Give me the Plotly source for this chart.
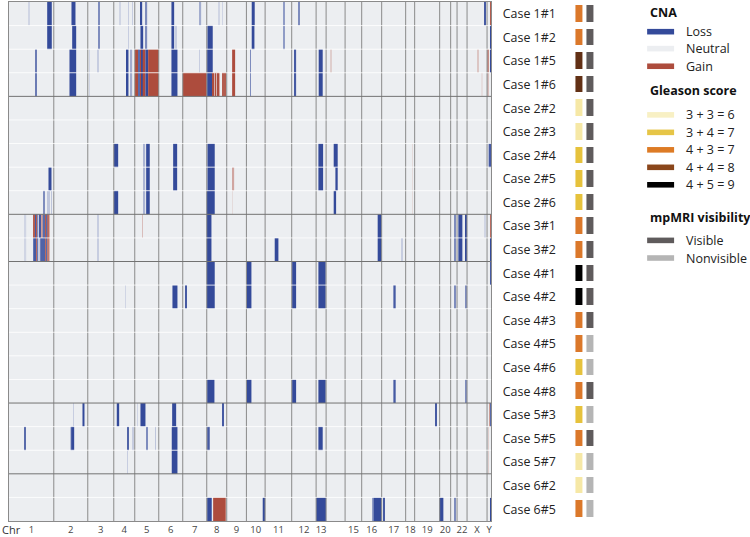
import plotly.graph_objects as go

# ---------------- data ----------------
ROWS = ["Case 1#1", "Case 1#2", "Case 1#5", "Case 1#6", "Case 2#2", "Case 2#3",
        "Case 2#4", "Case 2#5", "Case 2#6", "Case 3#1", "Case 3#2", "Case 4#1",
        "Case 4#2", "Case 4#3", "Case 4#5", "Case 4#6", "Case 4#8", "Case 5#3",
        "Case 5#5", "Case 5#7", "Case 6#2", "Case 6#5"]

CHROMS = ["1", "2", "3", "4", "5", "6", "7", "8", "9", "10", "11", "12", "13", "14",
          "15", "16", "17", "18", "19", "20", "21", "22", "X", "Y"]
# chromosome lengths in genome bins
CHROM_BINS = [448, 340, 260, 210, 240, 240, 240, 200, 197, 187, 266, 244, 100, 190,
              166, 200, 240, 90, 250, 110, 64, 100, 200, 43]
TICK_LABELS = ["1", "2", "3", "4", "5", "6", "7", "8", "9", "10", "11", "12", "13", "",
               "15", "16", "17", "18", "19", "20", "", "22", "X", "Y"]

GLEASON = ["4 + 3 = 7", "4 + 3 = 7", "4 + 4 = 8", "4 + 4 = 8", "3 + 3 = 6", "3 + 3 = 6",
           "3 + 4 = 7", "3 + 4 = 7", "3 + 4 = 7", "4 + 3 = 7", "4 + 3 = 7", "4 + 5 = 9",
           "4 + 5 = 9", "4 + 3 = 7", "4 + 3 = 7", "3 + 4 = 7", "4 + 3 = 7", "3 + 4 = 7",
           "4 + 3 = 7", "3 + 3 = 6", "3 + 3 = 6", "4 + 3 = 7"]
VISIBILITY = ["Visible"] * 14 + ["Nonvisible", "Nonvisible", "Visible", "Nonvisible",
                                 "Visible", "Nonvisible", "Nonvisible", "Nonvisible"]

# CNA segments per sample: (start bin, end bin, log2 ratio) in genome-wide bins
SEGMENTS = {
    "Case 1#1": [(195, 202, -0.15), (382, 428, -1), (625, 665, -1), (895, 905, -0.6),
                 (1110, 1117, -0.15), (1193, 1200, -0.2), (1233, 1240, -0.2), (1315, 1332, -1),
                 (1365, 1382, -0.6), (1625, 1652, -1), (1908, 1922, -0.4), (2098, 2105, -0.15),
                 (2132, 2138, -0.15), (2428, 2458, -1), (2748, 2755, -0.5), (2898, 2905, -0.6),
                 (4755, 4765, -0.9), (4812, 4825, 0.9)],
    "Case 1#2": [(382, 428, -1), (632, 672, -1), (895, 905, -0.6), (1193, 1200, -0.2),
                 (1315, 1342, -1), (1365, 1382, -0.6), (1625, 1652, -1), (1667, 1673, -0.2),
                 (1985, 2038, -1), (2428, 2455, -1), (2748, 2755, -0.5), (4812, 4825, -1)],
    "Case 1#5": [(265, 272, -0.7), (605, 672, -1), (805, 810, -0.15), (888, 893, -0.2),
                 (1178, 1195, -1), (1215, 1232, -0.4), (1260, 1295, 1), (1295, 1312, -0.8),
                 (1312, 1325, 1), (1325, 1338, -1), (1338, 1365, 1), (1365, 1392, -1),
                 (1392, 1498, 1), (1625, 1685, -1), (1902, 1908, -0.2), (1982, 2038, -1),
                 (2232, 2262, 1), (2412, 2420, -0.6), (2858, 2872, -0.9), (3098, 3138, -1),
                 (3220, 3225, 0.2), (4686, 4692, 0.25), (4785, 4792, 0.6), (4812, 4825, -1)],
    "Case 1#6": [(265, 272, -0.7), (605, 672, -1), (805, 810, -0.15), (1178, 1195, -1),
                 (1215, 1232, -0.4), (1260, 1295, 1), (1295, 1312, -0.8), (1312, 1325, 1),
                 (1325, 1338, -1), (1338, 1365, 1), (1365, 1392, -1), (1392, 1498, 1),
                 (1625, 1685, -1), (1738, 1980, 1), (1982, 2038, -1), (2038, 2058, 1),
                 (2058, 2065, 0.4), (2065, 2075, 1), (2075, 2080, 0.3), (2080, 2105, 1),
                 (2135, 2142, 0.9), (2158, 2165, 0.9), (2232, 2262, 1), (2412, 2420, -0.6),
                 (2858, 2872, -0.9), (3098, 3138, -1), (4725, 4735, 0.1), (4785, 4792, 0.3)],
    "Case 2#2": [],
    "Case 2#3": [],
    "Case 2#4": [(1048, 1092, -1), (1348, 1362, -0.35), (1372, 1408, -1), (1642, 1682, -1),
                 (1985, 2058, -1), (3095, 3142, -1), (3248, 3288, -1), (4035, 4040, 0.12),
                 (4798, 4825, -0.9)],
    "Case 2#5": [(395, 425, -1), (1348, 1362, -0.35), (1372, 1408, -1), (1642, 1682, -1),
                 (1985, 2058, -1), (2235, 2252, 0.45), (3095, 3142, -1), (3265, 3288, -1),
                 (4035, 4040, 0.12)],
    "Case 2#6": [(345, 352, -0.6), (388, 393, -0.25), (405, 410, -0.25), (423, 428, -0.25),
                 (1048, 1092, -1), (1348, 1362, -0.35), (1372, 1408, -1), (1978, 2058, -1),
                 (2235, 2240, 0.12), (3248, 3272, -1), (4035, 4040, 0.12)],
    "Case 3#1": [(155, 172, -0.15), (248, 262, 0.9), (262, 275, -0.9), (275, 288, 0.9),
                 (288, 298, -0.6), (298, 308, -0.2), (308, 322, -0.9), (322, 338, 0.5),
                 (338, 362, -0.8), (362, 372, 0.9), (372, 382, -0.8), (382, 405, 0.8),
                 (888, 893, -0.2), (1335, 1340, 0.3), (1978, 2025, -1), (3688, 3728, -1),
                 (4455, 4465, -0.6), (4495, 4535, -1), (4562, 4578, -1), (4760, 4765, -0.15),
                 (4812, 4825, 0.8)],
    "Case 3#2": [(155, 172, -0.15), (242, 275, -0.9), (275, 288, 0.8), (288, 298, -0.7),
                 (298, 308, -0.2), (312, 362, -0.85), (362, 375, 0.8), (375, 388, -0.8),
                 (388, 405, 0.7), (888, 893, -0.2), (1978, 2025, -1), (2658, 2695, -1),
                 (3688, 3728, -1), (3928, 3933, -0.2), (4455, 4465, -0.6), (4495, 4535, -1),
                 (4562, 4578, -1), (4812, 4825, -1)],
    "Case 4#1": [(1978, 2058, -1), (2375, 2425, -1), (2832, 2872, -1), (3095, 3168, -1),
                 (4812, 4825, -0.9)],
    "Case 4#2": [(1162, 1167, -0.15), (1635, 1685, -1), (1762, 1772, -0.9), (1978, 2058, -1),
                 (2375, 2425, -1), (2832, 2872, -1), (3095, 3168, -1), (3845, 3868, -0.9),
                 (4458, 4472, -0.6), (4565, 4575, -0.6)],
    "Case 4#3": [],
    "Case 4#5": [],
    "Case 4#6": [],
    "Case 4#8": [(1982, 2055, -1), (2375, 2425, -1), (2832, 2872, -1), (3095, 3168, -1),
                 (3845, 3868, -0.9), (4565, 4575, -0.6)],
    "Case 5#3": [(643, 648, -0.2), (735, 755, -1), (1078, 1102, -1), (1282, 1287, -0.15),
                 (1315, 1365, -1), (1632, 1672, -1), (2135, 2148, -0.9), (4262, 4272, -0.9),
                 (4805, 4812, 0.5), (4812, 4825, -0.8)],
    "Case 5#5": [(158, 168, -0.8), (615, 622, -0.3), (622, 652, -1), (1185, 1195, -0.85),
                 (1232, 1248, -0.2), (1372, 1382, -0.6), (1462, 1468, -0.25), (1628, 1685, -1),
                 (1982, 2008, -0.9), (3095, 3138, -1), (4792, 4798, 0.2)],
    "Case 5#7": [(1182, 1188, -0.2), (1628, 1685, -1), (4792, 4798, 0.2)],
    "Case 6#2": [],
    "Case 6#5": [(1982, 2028, -1), (2042, 2168, 1), (2538, 2562, -1), (3072, 3172, -1),
                 (3632, 3648, -0.5), (3648, 3728, -1), (3748, 3758, -0.9), (4305, 4345, -1),
                 (4455, 4462, -0.6), (4812, 4825, -1)],
}

# ---------------- styles ----------------
LOSS_C, NEUTRAL_C, GAIN_C = "#344a9a", "#eceef1", "#ad4c3d"
GLEASON_ORDER = ["3 + 3 = 6", "3 + 4 = 7", "4 + 3 = 7", "4 + 4 = 8", "4 + 5 = 9"]
GLEASON_COLORS = ["#f6e8a6", "#e6c23c", "#db782a", "#623015", "#000000"]
GLEASON_LEG_COLORS = ["#f8f0c4", "#e6c547", "#dd7b25", "#8a461b", "#000000"]
VIS_ORDER = ["Visible", "Nonvisible"]
VIS_COLORS = ["#5f5b5c", "#b5b5b5"]
FONT = "Open Sans"

W, H = 750, 537
ML, MR, MT, MB = 9, 1, 1, 15
PW, PH = W - ML - MR, H - MT - MB


def px(x):
    return (x - ML) / PW


def py(y):
    return (H - MB - y) / PH


TOTAL = sum(CHROM_BINS)
bounds = [0]
for L in CHROM_BINS:
    bounds.append(bounds[-1] + L)
mids = [(bounds[i] + bounds[i + 1]) / 2 for i in range(len(CHROM_BINS))]

fig = go.Figure()

# neutral baseline for every sample
fig.add_trace(go.Bar(
    y=ROWS, x=[TOTAL] * len(ROWS), base=[0] * len(ROWS), orientation="h",
    marker=dict(color=NEUTRAL_C, line=dict(width=0)), width=1,
    hoverinfo="skip", showlegend=False))

seg_y, seg_base, seg_len, seg_val = [], [], [], []
for r in ROWS:
    for s, e, v in SEGMENTS[r]:
        seg_y.append(r)
        seg_base.append(s)
        seg_len.append(e - s)
        seg_val.append(v)

fig.add_trace(go.Bar(
    y=seg_y, x=seg_len, base=seg_base, orientation="h", width=1,
    marker=dict(color=seg_val, colorscale=[[0, LOSS_C], [0.5, NEUTRAL_C], [1, GAIN_C]],
                cmin=-1, cmax=1, line=dict(width=0)),
    showlegend=False, hovertemplate="%{y}<br>log2 ratio %{marker.color}<extra></extra>"))

# Gleason score / visibility columns
codes = []
for g, v in zip(GLEASON, VISIBILITY):
    codes.append([GLEASON_ORDER.index(g), 5 + VIS_ORDER.index(v)])
all_cols = GLEASON_COLORS + VIS_COLORS
n = len(all_cols)
cs = []
for i, c in enumerate(all_cols):
    cs.append([i / n, c])
    cs.append([(i + 1) / n, c])
fig.add_trace(go.Heatmap(
    z=codes, x=["Gleason", "mpMRI"], y=ROWS, xaxis="x2", yaxis="y",
    colorscale=cs, zmin=-0.5, zmax=n - 0.5, showscale=False, xgap=4, ygap=7,
    hoverinfo="skip"))

shapes = []
# chromosome boundaries
for b in bounds[1:-1]:
    shapes.append(dict(type="line", xref="x", yref="y domain", x0=b, x1=b, y0=0, y1=1,
                       line=dict(color="#8a8a8a", width=1), layer="above"))
# row separators
nrows = len(ROWS)
for k in range(1, nrows):
    same_case = ROWS[k].split("#")[0] == ROWS[k - 1].split("#")[0]
    yf = 1 - k / nrows
    shapes.append(dict(type="line", xref="x", yref="y domain", x0=0, x1=TOTAL, y0=yf, y1=yf,
                       line=dict(color="rgba(255,255,255,0.75)" if same_case else "#727272",
                                 width=1), layer="above"))

annotations = [dict(text="Chr", xref="paper", yref="paper", x=px(0), y=py(531),
                    xanchor="left", yanchor="middle", showarrow=False,
                    font=dict(family=FONT, size=11, color="#333"))]

# manual legend
SW_X0, SW_X1, TX = 648, 675, 685


def legend_title(text, y):
    annotations.append(dict(text="<b>%s</b>" % text, xref="paper", yref="paper", x=px(649),
                            y=py(y), xanchor="left", yanchor="middle", showarrow=False,
                            font=dict(family=FONT, size=12.5, color="#111")))


def legend_item(text, color, y):
    shapes.append(dict(type="rect", xref="paper", yref="paper", x0=px(SW_X0), x1=px(SW_X1),
                       y0=py(y - 2.8), y1=py(y + 2.8), fillcolor=color, line=dict(width=0)))
    annotations.append(dict(text=text, xref="paper", yref="paper", x=px(TX), y=py(y),
                            xanchor="left", yanchor="middle", showarrow=False,
                            font=dict(family=FONT, size=12.5, color="#222")))


legend_title("CNA", 12)
legend_item("Loss", LOSS_C, 30.8)
legend_item("Neutral", NEUTRAL_C, 47.8)
legend_item("Gain", GAIN_C, 65.5)
legend_title("Gleason score", 89.5)
for i, (g, c) in enumerate(zip(GLEASON_ORDER, GLEASON_LEG_COLORS)):
    legend_item(g, c, 114.3 + i * 17.55)
legend_title("mpMRI visibility", 217.5)
legend_item("Visible", VIS_COLORS[0], 240.3)
legend_item("Nonvisible", VIS_COLORS[1], 258)

fig.update_layout(
    width=W, height=H, margin=dict(l=ML, r=MR, t=MT, b=MB, pad=0),
    paper_bgcolor="white", plot_bgcolor="white", barmode="overlay",
    showlegend=False, shapes=shapes, annotations=annotations,
    font=dict(family=FONT),
    xaxis=dict(domain=[0, px(492)], range=[0, TOTAL], tickvals=mids, ticktext=TICK_LABELS,
               tickfont=dict(family=FONT, size=9.5, color="#444"), ticks="",
               showgrid=False, zeroline=False, showline=True, mirror=True,
               linecolor="#8a8a8a", linewidth=1, fixedrange=True),
    yaxis=dict(type="category", categoryorder="array", categoryarray=ROWS,
               range=[nrows - 0.5, -0.5], side="right", anchor="x", ticks="",
               ticklabelstandoff=8, showgrid=False, zeroline=False, showline=True,
               mirror=True, linecolor="#8a8a8a", linewidth=1,
               tickfont=dict(family=FONT, size=12.4, color="#222")),
    xaxis2=dict(domain=[px(574.2), px(596.2)], range=[-0.5, 1.5], anchor="y", visible=False,
                showgrid=False, zeroline=False),
)

fig.write_html("out.html",
               config={"displayModeBar": False},
               post_script="document.body.style.margin='0';"
                           "document.body.style.overflow='hidden';")
